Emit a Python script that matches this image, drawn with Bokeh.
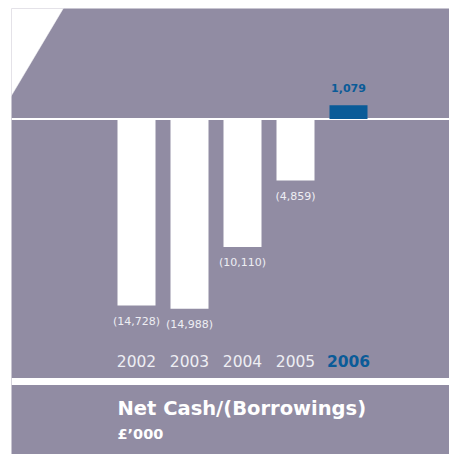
from bokeh.plotting import figure
from bokeh.models import Range1d, Span, BoxAnnotation, ColumnDataSource
from bokeh.core.properties import value
from bokeh.embed import file_html
from bokeh.resources import INLINE

# ---- data ----
years = ["2002", "2003", "2004", "2005", "2006"]
net_cash = [-14728, -14988, -10110, -4859, 1079]
value_labels = ["(14,728)", "(14,988)", "(10,110)", "(4,859)", "1,079"]
title_text = "Net Cash/(Borrowings)"
unit_text = "£’000"

# ---- style ----
GREY = "#918ca3"
BLUE = "#0a5b98"
LIGHT = "#eeeef3"
FONT = value("DejaVu Sans")

W, H = 449, 454
LEFT, TOP = 11, 8
X0_PX, STEP_PX = 136.0, 53.0      # pixel centre of first bar, bar spacing
BASE_PX = 118.5                   # pixel row of zero
PX_PER_UNIT = 0.01266


def x_at(px):
    return (px - X0_PX) / STEP_PX


def y_at(px):
    return (BASE_PX - px) / PX_PER_UNIT


idx = list(range(len(years)))
latest = len(years) - 1
bar_colors = [BLUE if i == latest else "white" for i in idx]
label_colors = [BLUE if i == latest else LIGHT for i in idx]
label_styles = ["bold" if i == latest else "normal" for i in idx]
label_offsets = [-17 if v > 0 else 16 for v in net_cash]

src = ColumnDataSource(dict(x=idx, top=net_cash, year=years, lab=value_labels,
                            bc=bar_colors, lc=label_colors, ls=label_styles,
                            off=label_offsets))

p = figure(width=W, height=H, output_backend="svg", toolbar_location=None,
           title=None, x_axis_location=None, y_axis_location=None,
           x_range=Range1d(x_at(LEFT), x_at(W)),
           y_range=Range1d(y_at(H), y_at(TOP)),
           min_border_left=LEFT, min_border_top=TOP,
           min_border_right=0, min_border_bottom=0,
           background_fill_color=GREY, border_fill_color="white",
           outline_line_color=None)
p.grid.visible = False

# cut corner top-left
p.patch(x=[x_at(0), x_at(67.5), x_at(0)], y=[y_at(113.5), y_at(0), y_at(0)],
        fill_color="white", line_color="white", line_width=0.5)

# white gap between chart panel and title panel
p.add_layout(BoxAnnotation(top=y_at(377.5), bottom=y_at(384.5),
                           fill_color="white", fill_alpha=1, line_color=None,
                           level="underlay"))

# zero line
p.add_layout(Span(location=0, dimension="width", line_color="white",
                  line_width=2, level="underlay"))

p.vbar(x="x", top="top", bottom=0, width=38 / STEP_PX, source=src,
       fill_color="bc", line_color=None)

# value labels
p.text(x="x", y="top", text="lab", source=src, y_offset="off",
       text_align="center", text_baseline="middle", text_font=FONT,
       text_font_size="11px", text_color="lc", text_font_style="ls")

# year labels
p.text(x="x", y=y_at(360.5), text="year", source=src,
       text_align="center", text_baseline="middle", text_font=FONT,
       text_font_size="15.5px", text_color="lc", text_font_style="ls")

# title panel text
p.text(x=[x_at(117)], y=[y_at(407.5)], text=[title_text],
       text_align="left", text_baseline="middle", text_font=FONT,
       text_font_size="19.5px", text_font_style="bold", text_color="white")
p.text(x=[x_at(117)], y=[y_at(433)], text=[unit_text],
       text_align="left", text_baseline="middle", text_font=FONT,
       text_font_size="14.5px", text_font_style="bold", text_color="white")

open("out.html", "w").write(file_html(p, INLINE))
